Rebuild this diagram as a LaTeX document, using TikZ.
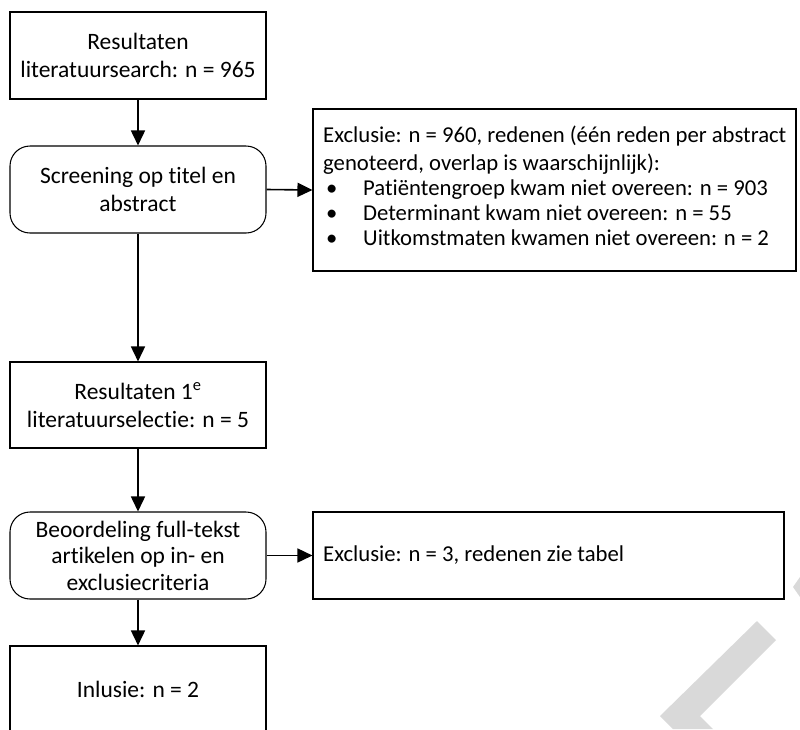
\documentclass[tikz,border=0pt]{standalone}
\usepackage{fontspec}
\setmainfont{Carlito}[Ligatures=NoCommon]
\usetikzlibrary{arrows.meta}
\tikzset{
  box/.style={draw=black, line width=1.1pt, minimum width=256pt, minimum height=87pt, align=center, inner sep=0pt,
    font=\fontsize{23.5}{28}\selectfont},
  roundbox/.style={box, rounded corners=20pt, line width=1.05pt},
  exbox/.style={draw=black, line width=1.1pt, inner sep=0pt},
  extext/.style={inner sep=0pt, font=\fontsize{22.7}{25}\selectfont},
  arr/.style={line width=1.6pt, -{Triangle[length=15pt,width=14pt]}},
  wm/.style={fill={rgb,255:red,217;green,217;blue,217}, draw=none}
}
\begin{document}
\begin{tikzpicture}[x=1pt,y=-1pt]
\useasboundingbox (0,0) rectangle (800,729);
\clip (0,0) rectangle (800,729);
% watermark
\fill[wm] (673,729) -- (660,716) -- (757,621) -- (776,640) -- (700,716) -- (713,729) -- cycle;
\fill[wm] (800,577) -- (793,587) -- (800,597) -- cycle;
% main column
\node[box] (b1) at (138,55.5) {Resultaten\\literatuursearch: n = 965};
\node[roundbox] (b2) at (138,189.5) {Screening op titel en\\abstract};
\node[box, minimum height=86pt] (b3) at (138,405) {Resultaten 1\textsuperscript{e}\\literatuurselectie: n = 5};
\node[roundbox, font=\fontsize{23.5}{26.5}\selectfont] (b4) at (138,555.5) {Beoordeling full-tekst\\artikelen op in- en\\exclusiecriteria};
\node[box] (b5) at (138,689.5) {Inlusie: n = 2};
% exclusion boxes
\node[exbox, minimum width=483pt, minimum height=162pt] (e1) at (554.5,190) {};
\node[exbox, minimum width=471pt, minimum height=87pt] (e2) at (548.5,555.5) {};
\node[extext, anchor=west, align=left] (t1) at (323,186)
  {Exclusie: n = 960, redenen (één reden per abstract\\[3pt]
   genoteerd, overlap is waarschijnlijk):\\
   \hspace*{3pt}\makebox[37pt][l]{\textbullet}Patiëntengroep kwam niet overeen: n = 903\\
   \hspace*{3pt}\makebox[37pt][l]{\textbullet}Determinant kwam niet overeen: n = 55\\
   \hspace*{3pt}\makebox[37pt][l]{\textbullet}Uitkomstmaten kwamen niet overeen: n = 2};
\node[extext, anchor=west] (t2) at (323,555.5) {Exclusie: n = 3, redenen zie tabel};
% connectors
\draw[arr] (b1) -- (b2);
\draw[arr] (b2) -- (b3);
\draw[arr] (b3) -- (b4);
\draw[arr] (b4) -- (b5);
\draw[arr] (b2.east) -- (e1.west);
\draw[arr] (b4.east) -- (e2.west);
\end{tikzpicture}
\end{document}
